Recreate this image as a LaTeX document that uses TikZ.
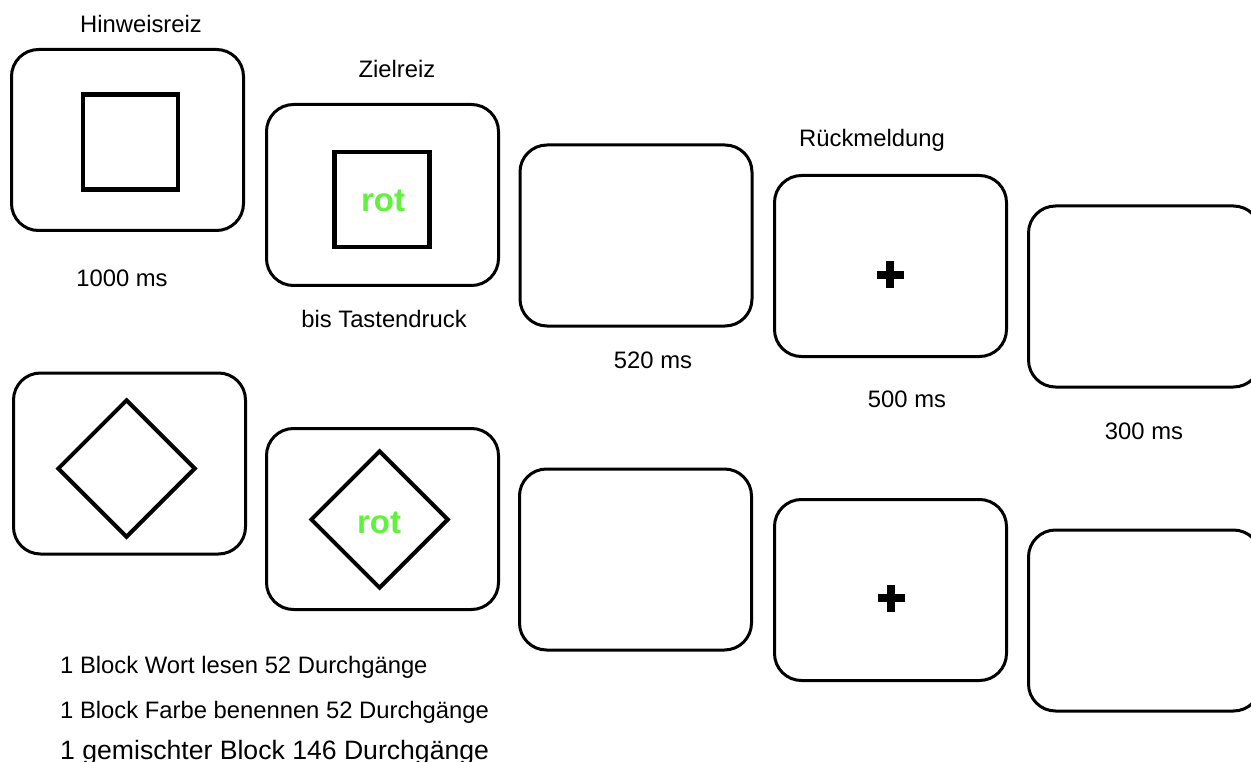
\documentclass[tikz,border=0pt]{standalone}
\usepackage{fontspec}
\setmainfont{Liberation Sans}
\usetikzlibrary{shapes.geometric}
\definecolor{rotgreen}{RGB}{96,242,60}
\tikzset{
  screen/.style={draw, line width=3pt, rounded corners=27pt, minimum width=232pt, minimum height=181pt, inner sep=0pt},
  cuesq/.style={draw, line width=4.5pt, minimum width=95pt, minimum height=95pt, inner sep=0pt},
  cuedia/.style={diamond, draw, line width=4pt, minimum width=138pt, minimum height=138pt, inner sep=0pt},
  lbl/.style={anchor=base, inner sep=0pt, font=\fontsize{23.8}{28}\selectfont},
  blk/.style={anchor=base west, inner sep=0pt, font=\fontsize{23.8}{28}\selectfont},
  blkbig/.style={anchor=base west, inner sep=0pt, font=\fontsize{26.6}{32}\selectfont},
  word/.style={anchor=base, inner sep=0pt, text=rotgreen, font=\fontsize{33}{38}\selectfont\bfseries},
  plusarm/.style={line width=8pt}
}
\begin{document}
\begin{tikzpicture}[x=1pt,y=-1pt]
\useasboundingbox (0,0) rectangle (1251,762);
\fill[white] (0,0) rectangle (1251,762);
% top row screens
\node[screen] (s1) at (127.5,140) {};
\node[screen] (s2) at (382.5,195) {};
\node[screen] (s3) at (636,235.5) {};
\node[screen] (s4) at (890.5,266) {};
\node[screen] (s5) at (1144.5,296.5) {};
% bottom row screens
\node[screen] (t1) at (129.5,463.5) {};
\node[screen] (t2) at (382.5,519) {};
\node[screen] (t3) at (635.5,559.5) {};
\node[screen] (t4) at (890.5,590) {};
\node[screen] (t5) at (1144.5,620.5) {};
% cues
\node[cuesq] (q1) at (130.5,142) {};
\node[cuesq] (q2) at (382,199.5) {};
\node[cuedia] (d1) at (126.5,468.5) {};
\node[cuedia] (d2) at (379.5,519.5) {};
% target words
\node[word] (w1) at (383,212) {rot};
\node[word] (w2) at (379,533) {rot};
% fixation crosses
\coordinate (p1) at (890,275);
\coordinate (p2) at (891,598);
\draw[plusarm] ([xshift=-13.5pt]p1) -- ([xshift=13.5pt]p1);
\draw[plusarm] ([yshift=-13.5pt]p1) -- ([yshift=13.5pt]p1);
\draw[plusarm] ([xshift=-13.5pt]p2) -- ([xshift=13.5pt]p2);
\draw[plusarm] ([yshift=-13.5pt]p2) -- ([yshift=13.5pt]p2);
% labels
\node[lbl] (l1) at (141,33) {Hinweisreiz};
\node[lbl] (l2) at (397,78) {Zielreiz};
\node[lbl] (l3) at (872,147) {Rückmeldung};
\node[lbl] (m1) at (122,287) {1000 ms};
\node[lbl] (m2) at (384,327) {bis Tastendruck};
\node[lbl] (m3) at (653,368) {520 ms};
\node[lbl] (m4) at (907,407) {500 ms};
\node[lbl] (m5) at (1144,439) {300 ms};
% block description
\node[blk] (b1) at (60,673) {1 Block Wort lesen 52 Durchgänge};
\node[blk] (b2) at (60,718) {1 Block Farbe benennen 52 Durchgänge};
\node[blkbig] (b3) at (60,759) {1 gemischter Block 146 Durchgänge};
\end{tikzpicture}
\end{document}
